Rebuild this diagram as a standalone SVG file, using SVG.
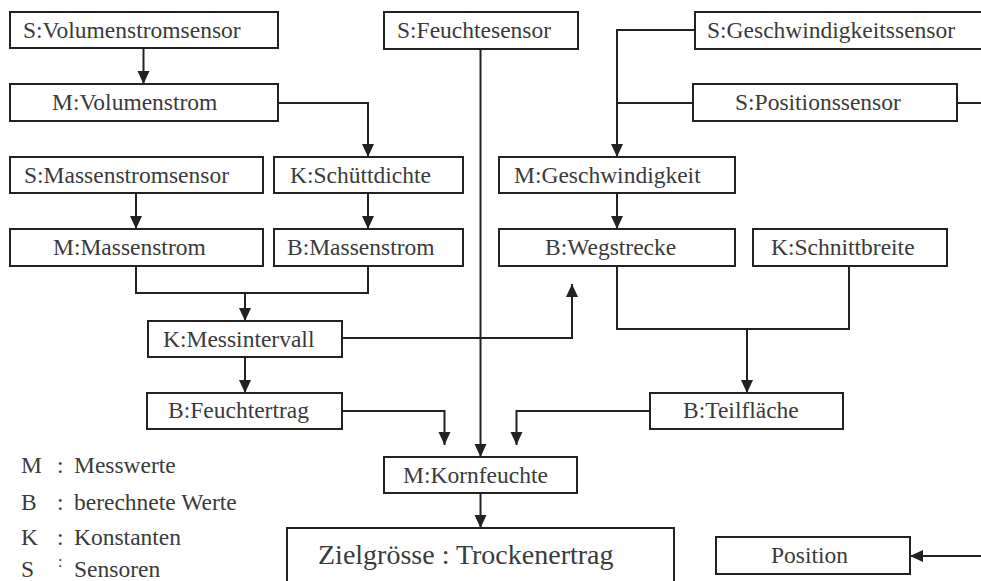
<svg xmlns="http://www.w3.org/2000/svg" width="981" height="581" viewBox="0 0 981 581" font-family="Liberation Serif, Times New Roman, serif">
<defs>
<marker id="ah" markerUnits="userSpaceOnUse" markerWidth="14" markerHeight="14" viewBox="0 0 14 14" refX="13" refY="7" orient="auto">
<path d="M0,1 L13,7 L0,13 Z" fill="#222"/>
</marker>
</defs>
<style>
rect.n{fill:#fff;stroke:#222;stroke-width:2}
text{font-family:'Liberation Serif',serif;font-size:23.5px;fill:#3a3a3a}
text.big{font-size:28px}
text.sm{font-size:16px}
.c path{fill:none;stroke:#222;stroke-width:2}
.c path.a{marker-end:url(#ah)}
</style>
<rect width="981" height="581" fill="#fff"/>
<g class="c" id="connectors">
<path class="a" d="M143.5,48 V84"/>
<path class="a" d="M278,103 H368 V157"/>
<path class="a" d="M136,193 V229"/>
<path class="a" d="M368,193 V229"/>
<path d="M136,266 V293 H368 V266"/>
<path class="a" d="M245,293 V321"/>
<path class="a" d="M245,357 V393"/>
<path class="a" d="M342,338 H572 V284"/>
<path class="a" d="M480.5,49 V457"/>
<path class="a" d="M342,411 H444.5 V445"/>
<path class="a" d="M650,411 H516.5 V445"/>
<path class="a" d="M480.5,493 V528"/>
<path class="a" d="M695,30 H617 V157"/>
<path d="M693,103 H617"/>
<path d="M957,103 H981"/>
<path class="a" d="M617,193 V229"/>
<path d="M617,266 V329 H849 V266"/>
<path class="a" d="M747,329 V393"/>
<path class="a" d="M981,556 H910"/>
</g>
<g id="n_volsensor"><rect class="n" x="10" y="12" width="268" height="36"/><text x="23" y="38">S:Volumenstromsensor</text></g>
<g id="n_volstrom"><rect class="n" x="10" y="84" width="268" height="37"/><text x="52" y="110">M:Volumenstrom</text></g>
<g id="n_massensensor"><rect class="n" x="10" y="157" width="253" height="36"/><text x="24" y="183">S:Massenstromsensor</text></g>
<g id="n_schuettdichte"><rect class="n" x="274" y="157" width="189" height="36"/><text x="290" y="183">K:Schüttdichte</text></g>
<g id="n_massenstrom_m"><rect class="n" x="10" y="229" width="253" height="37"/><text x="53" y="255">M:Massenstrom</text></g>
<g id="n_massenstrom_b"><rect class="n" x="274" y="229" width="189" height="37"/><text x="287" y="255">B:Massenstrom</text></g>
<g id="n_messintervall"><rect class="n" x="148" y="321" width="194" height="36"/><text x="163" y="347">K:Messintervall</text></g>
<g id="n_feuchtertrag"><rect class="n" x="147" y="393" width="195" height="36"/><text x="168" y="418">B:Feuchtertrag</text></g>
<g id="n_feuchtesensor"><rect class="n" x="384" y="12" width="194" height="37"/><text x="397" y="38">S:Feuchtesensor</text></g>
<g id="n_geschwindigkeit"><rect class="n" x="499" y="157" width="236" height="36"/><text x="514" y="183">M:Geschwindigkeit</text></g>
<g id="n_geschwsensor"><rect class="n" x="695" y="12" width="300" height="37"/><text x="707" y="38">S:Geschwindigkeitssensor</text></g>
<g id="n_possensor"><rect class="n" x="693" y="84" width="264" height="37"/><text x="735" y="110">S:Positionssensor</text></g>
<g id="n_wegstrecke"><rect class="n" x="499" y="229" width="236" height="37"/><text x="545" y="255">B:Wegstrecke</text></g>
<g id="n_schnittbreite"><rect class="n" x="753" y="229" width="194" height="37"/><text x="771" y="255">K:Schnittbreite</text></g>
<g id="n_teilflaeche"><rect class="n" x="650" y="393" width="193" height="36"/><text x="683" y="418">B:Teilfläche</text></g>
<g id="n_kornfeuchte"><rect class="n" x="384" y="457" width="193" height="36"/><text x="403" y="483">M:Kornfeuchte</text></g>
<g id="n_ziel"><rect class="n" x="287" y="528" width="387" height="70"/><text class="big" x="318" y="564">Zielgrösse : Trockenertrag</text></g>
<g id="n_position"><rect class="n" x="716" y="537" width="194" height="37"/><text x="771" y="563">Position</text></g>
<g id="legend">
<text x="21" y="473">M</text><text x="57" y="473">:</text><text x="74" y="473">Messwerte</text>
<text x="21" y="510">B</text><text x="57" y="510">:</text><text x="74" y="510">berechnete Werte</text>
<text x="21" y="545">K</text><text x="57" y="545">:</text><text x="74" y="545">Konstanten</text>
<text x="21" y="577">S</text><text class="sm" x="58" y="567">:</text><text x="74" y="577">Sensoren</text>
</g>
</svg>
